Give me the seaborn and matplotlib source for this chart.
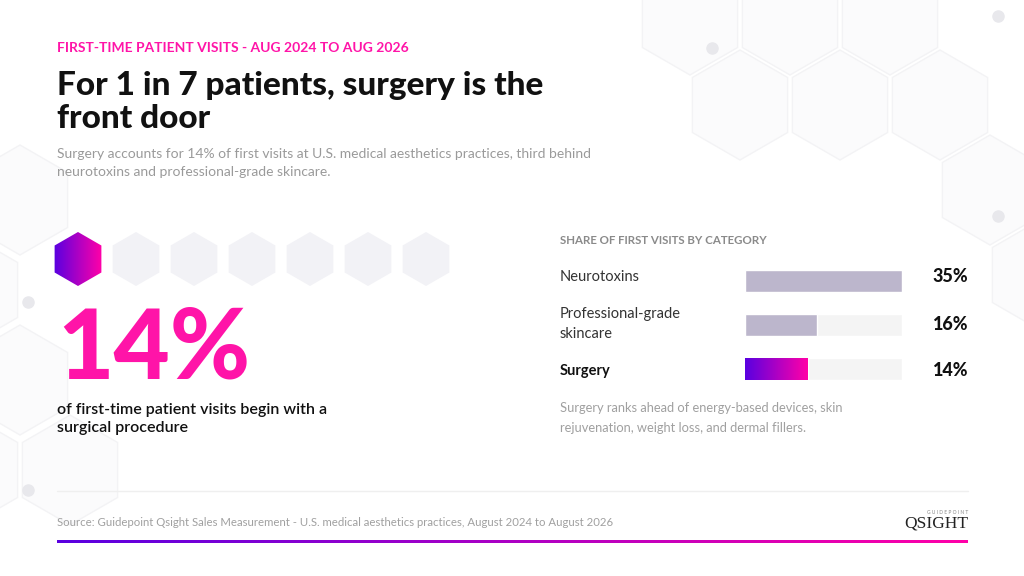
import numpy as np
import seaborn as sns
import matplotlib.pyplot as plt
from matplotlib.patches import RegularPolygon
from matplotlib.colors import LinearSegmentedColormap

categories = ['Neurotoxins', 'Professional-grade\nskincare', 'Surgery']
shares = [35, 16, 14]
value_labels = ['35%', '16%', '14%']
hex_filled = 1
hex_total = 7

W, H = 1024, 576
grad = LinearSegmentedColormap.from_list('qs', ['#5a00e0', '#ff00a8'])
pink = '#ff14a8'
grey = '#8a8a8a'

sns.set_theme(style='white')
plt.rcParams['font.family'] = ['Lato', 'DejaVu Sans']

fig = plt.figure(figsize=(W / 100, H / 100), dpi=100)
bg = fig.add_axes([0, 0, 1, 1])
bg.set_xlim(0, W)
bg.set_ylim(H, 0)
bg.axis('off')

# faint decorative hexagon lattice
for cx, cy in [(690, 20), (790, 20), (890, 20), (740, 105), (840, 105), (940, 105),
               (990, 190), (1040, 275), (20, 200), (-30, 290), (20, 380), (-30, 470), (70, 470)]:
    bg.add_patch(RegularPolygon((cx, cy), 6, radius=55, orientation=0,
                                facecolor='#fbfbfc', edgecolor='#f3f3f5', lw=1, zorder=0))
for px, py in [(712, 48), (998, 16), (998, 216), (28, 302), (28, 490)]:
    bg.plot(px, py, 'o', color='#e8e8ec', ms=8, zorder=0)

# header texts
fig.text(57 / W, 1 - 48 / H, 'FIRST-TIME PATIENT VISITS - AUG 2024 TO AUG 2026',
         color=pink, fontsize=10, fontweight='bold', va='center')
fig.text(57 / W, 1 - 102 / H, 'For 1 in 7 patients, surgery is the\nfront door',
         color='#111111', fontsize=24, fontweight='black', va='center', linespacing=1.2)
fig.text(57 / W, 1 - 163 / H,
         'Surgery accounts for 14% of first visits at U.S. medical aesthetics practices, third behind\n'
         'neurotoxins and professional-grade skincare.',
         color='#9a9a9a', fontsize=10, va='center', linespacing=1.6)

# hexagon pictogram
for i in range(hex_total):
    cx, cy = 78 + i * 58, 259
    hexp = RegularPolygon((cx, cy), 6, radius=27, orientation=0,
                          facecolor='#f2f2f6' if i >= hex_filled else 'none', edgecolor='none', zorder=2)
    bg.add_patch(hexp)
    if i < hex_filled:
        im = bg.imshow(np.linspace(0, 1, 64)[None, :], cmap=grad, aspect='auto',
                       extent=[cx - 24, cx + 24, cy + 27, cy - 27], zorder=3)
        im.set_clip_path(hexp)

fig.text(57 / W, 1 - 350 / H, '14%', color=pink, fontsize=70, fontweight='black', va='center')
fig.text(57 / W, 1 - 419 / H, 'of first-time patient visits begin with a\nsurgical procedure',
         color='#111111', fontsize=11.5, fontweight='semibold', va='center', linespacing=1.45)

# bar chart
fig.text(560 / W, 1 - 241 / H, 'SHARE OF FIRST VISITS BY CATEGORY', color=grey,
         fontsize=8.3, fontweight='bold', va='center')
ax = fig.add_axes([745 / W, 1 - 395 / H, 157 / W, 140 / H])
track = [max(shares)] * len(shares)
sns.barplot(x=track, y=categories, color='#f4f4f4', width=0.5, ax=ax, orient='h', saturation=1)
sns.barplot(x=shares, y=categories, color='#bcb6cc', width=0.5, ax=ax, orient='h', saturation=1)
ax.set_xlim(0, max(shares))
ax.axis('off')
bars = ax.patches[len(shares):]
sb = bars[-1]
sb.set_facecolor('none')
x0, y0 = sb.get_x(), sb.get_y()
gim = ax.imshow(np.linspace(0, 1, 64)[None, :], cmap=grad, aspect='auto',
                extent=[x0, x0 + sb.get_width(), y0 + sb.get_height(), y0], zorder=3)
gim.set_clip_path(sb)
ax.set_ylim(2.6, -0.6)

for i, (cat, lab) in enumerate(zip(categories, value_labels)):
    ypix = 277 + i * 47
    fig.text(560 / W, 1 - ypix / H, cat, fontsize=10.5, va='center', linespacing=1.5,
             color='#111111' if i == 2 else '#333333', fontweight='bold' if i == 2 else 'normal')
    fig.text(968 / W, 1 - ypix / H, lab, fontsize=13, fontweight='black', ha='right',
             va='center', color='#111111')

fig.text(560 / W, 1 - 418 / H, 'Surgery ranks ahead of energy-based devices, skin\n'
         'rejuvenation, weight loss, and dermal fillers.', color='#a0a0a0', fontsize=9.3,
         va='center', linespacing=1.7)

# footer
bg.plot([57, 968], [491, 491], color='#efefef', lw=1)
fig.text(57 / W, 1 - 522 / H, 'Source: Guidepoint Qsight Sales Measurement - U.S. medical aesthetics practices, '
         'August 2024 to August 2026', color='#a0a0a0', fontsize=8.2, va='center')
fig.text(968 / W, 1 - 512 / H, 'G U I D E P O I N T', color='#888888', fontsize=3.5, ha='right', va='center')
fig.text(968 / W, 1 - 524 / H, 'QSIGHT', color='#222222', fontsize=12.5, ha='right', va='center',
         family='Liberation Serif')
bg.imshow(np.linspace(0, 1, 256)[None, :], cmap=grad, aspect='auto',
          extent=[57, 968, 543, 540], zorder=3)
bg.set_xlim(0, W)
bg.set_ylim(H, 0)

fig.savefig('out.png', dpi=100, facecolor='white')
